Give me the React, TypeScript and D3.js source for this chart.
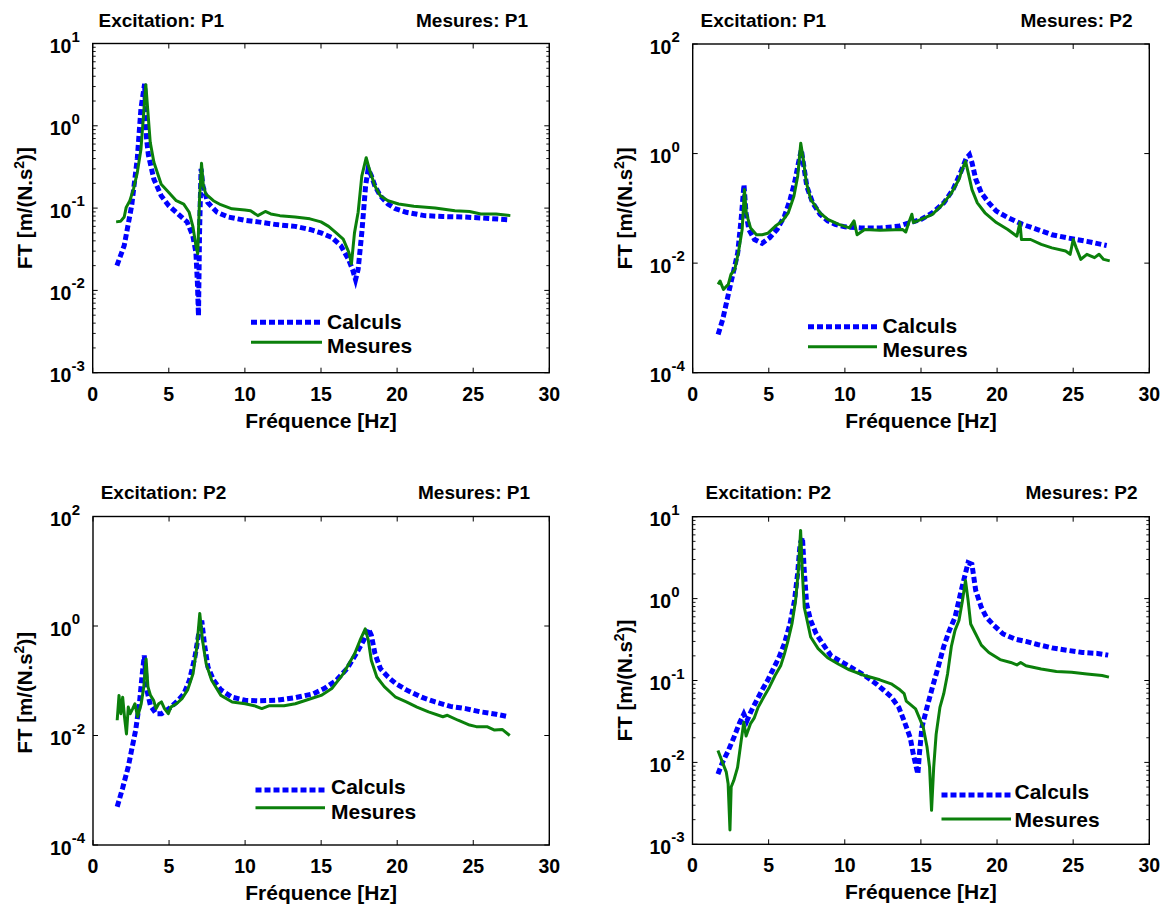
import React from "react";
import * as d3 from "d3";

// ---------- shared labels / ticks ----------
const xTickValues = [0, 5, 10, 15, 20, 25, 30];
const xDomain: [number, number] = [0, 30];
const legendLabels = ["Calculs", "Mesures"];
const xAxisLabel = "Fréquence [Hz]";
const yAxisLabelMain = "FT [m/(N.s";
const yAxisLabelSup = "2";
const yAxisLabelEnd = ")]";

// ---------- Panel 1 : Excitation P1 / Mesures P1 ----------
const p1Titles = ["Excitation: P1", "Mesures: P1"];
const p1YExps = [-3, -2, -1, 0, 1];
const p1CalcFreq = [1.59, 2.07, 2.56, 2.93, 3.17, 3.41, 3.54, 3.66, 4.02, 4.5, 5.0, 5.73, 6.2, 6.58, 6.78, 6.88, 6.95, 7.02, 7.12, 7.24, 7.56, 8.17, 8.9, 10.0, 10.85, 12.07, 13.3, 14.27, 15.0, 15.7, 16.3, 16.8, 17.07, 17.27, 17.44, 17.68, 17.93, 18.1, 18.3, 18.54, 18.9, 19.4, 19.9, 20.6, 21.8, 23.0, 24.3, 25.5, 27.4];
const p1CalcAmp = [0.02, 0.035, 0.107, 0.4, 1.62, 3.24, 0.69, 0.44, 0.224, 0.141, 0.107, 0.081, 0.068, 0.046, 0.029, 0.0123, 0.0049, 0.05, 0.3, 0.186, 0.117, 0.089, 0.078, 0.071, 0.068, 0.063, 0.06, 0.055, 0.05, 0.044, 0.035, 0.024, 0.018, 0.0135, 0.018, 0.05, 0.186, 0.3, 0.25, 0.186, 0.141, 0.112, 0.098, 0.089, 0.081, 0.079, 0.078, 0.076, 0.072];
const p1MesFreq = [1.54, 1.83, 2.07, 2.2, 2.44, 2.68, 2.93, 3.17, 3.34, 3.49, 3.61, 3.78, 4.02, 4.5, 5.0, 5.49, 5.98, 6.34, 6.58, 6.78, 6.9, 7.02, 7.15, 7.27, 7.44, 7.93, 8.41, 9.15, 10.0, 10.37, 10.85, 11.34, 11.7, 12.3, 13.3, 14.27, 15.0, 15.5, 16.0, 16.46, 16.83, 17.0, 17.2, 17.44, 17.68, 17.97, 18.17, 18.54, 18.9, 19.4, 20.1, 21.1, 22.5, 23.8, 24.76, 25.5, 26.5, 27.44];
const p1MesAmp = [0.068, 0.069, 0.078, 0.102, 0.123, 0.17, 0.27, 0.52, 1.35, 3.16, 1.62, 0.63, 0.36, 0.195, 0.155, 0.123, 0.112, 0.089, 0.06, 0.035, 0.028, 0.129, 0.35, 0.186, 0.148, 0.123, 0.11, 0.098, 0.095, 0.093, 0.081, 0.091, 0.085, 0.081, 0.078, 0.074, 0.068, 0.06, 0.05, 0.042, 0.029, 0.021, 0.05, 0.089, 0.245, 0.41, 0.3, 0.186, 0.141, 0.123, 0.112, 0.105, 0.1, 0.093, 0.091, 0.085, 0.085, 0.081];

// ---------- Panel 2 : Excitation P1 / Mesures P2 ----------
const p2Titles = ["Excitation: P1", "Mesures: P2"];
const p2YExps = [-4, -2, 0, 2];
const p2CalcFreq = [1.67, 1.97, 2.22, 2.46, 2.71, 2.96, 3.2, 3.37, 3.5, 3.69, 4.06, 4.56, 5.05, 5.54, 6.03, 6.4, 6.7, 6.95, 7.14, 7.3, 7.5, 7.88, 8.37, 8.87, 9.36, 10.0, 11.06, 12.3, 13.5, 14.3, 15.0, 15.76, 16.5, 17.1, 17.6, 17.98, 18.18, 18.35, 18.6, 18.97, 19.46, 19.95, 20.7, 21.67, 22.66, 23.6, 24.6, 25.9, 27.2];
const p2CalcAmp = [0.0005, 0.00093, 0.0019, 0.0038, 0.0076, 0.0155, 0.072, 0.27, 0.083, 0.041, 0.027, 0.023, 0.029, 0.041, 0.072, 0.145, 0.3, 0.68, 1.17, 0.59, 0.25, 0.126, 0.078, 0.059, 0.051, 0.046, 0.044, 0.044, 0.047, 0.055, 0.063, 0.083, 0.126, 0.22, 0.45, 0.83, 0.95, 0.68, 0.34, 0.19, 0.126, 0.089, 0.068, 0.051, 0.041, 0.033, 0.029, 0.025, 0.021];
const p2MesFreq = [1.67, 1.8, 2.02, 2.34, 2.51, 2.76, 3.0, 3.25, 3.4, 3.52, 3.8, 4.19, 4.56, 4.93, 5.42, 5.9, 6.28, 6.65, 6.9, 7.1, 7.27, 7.46, 7.76, 8.37, 8.87, 9.6, 10.3, 10.6, 10.8, 11.3, 12.3, 13.8, 14.0, 14.2, 14.4, 14.5, 15.0, 15.76, 16.4, 17.0, 17.5, 17.7, 17.93, 18.1, 18.35, 18.7, 19.2, 19.95, 20.7, 21.3, 21.5, 21.6, 22.2, 22.9, 23.6, 24.5, 24.8, 25.0, 25.2, 25.5, 25.9, 26.4, 26.7, 27.0, 27.4];
const p2MesAmp = [0.0041, 0.0047, 0.0033, 0.0041, 0.0062, 0.0076, 0.0155, 0.041, 0.22, 0.083, 0.044, 0.033, 0.033, 0.035, 0.047, 0.059, 0.083, 0.166, 0.39, 1.55, 0.78, 0.3, 0.145, 0.083, 0.063, 0.051, 0.044, 0.059, 0.033, 0.041, 0.04, 0.041, 0.037, 0.055, 0.078, 0.055, 0.063, 0.078, 0.117, 0.19, 0.34, 0.51, 0.72, 0.45, 0.22, 0.126, 0.083, 0.055, 0.041, 0.031, 0.055, 0.027, 0.027, 0.022, 0.019, 0.0166, 0.0145, 0.027, 0.019, 0.0117, 0.0145, 0.0126, 0.0145, 0.0117, 0.011];

// ---------- Panel 3 : Excitation P2 / Mesures P1 ----------
const p3Titles = ["Excitation: P2", "Mesures: P1"];
const p3YExps = [-4, -2, 0, 2];
const p3CalcFreq = [1.59, 1.95, 2.32, 2.56, 2.8, 3.05, 3.24, 3.37, 3.54, 3.78, 4.15, 4.5, 5.0, 5.49, 5.98, 6.34, 6.7, 6.95, 7.15, 7.32, 7.56, 7.93, 8.41, 9.15, 10.0, 10.85, 12.07, 13.3, 14.5, 15.2, 16.0, 16.7, 17.3, 17.8, 18.1, 18.3, 18.54, 18.9, 19.4, 19.9, 20.6, 21.6, 22.5, 23.5, 24.5, 25.5, 26.5, 27.3];
const p3CalcAmp = [0.0005, 0.0011, 0.0027, 0.0058, 0.0123, 0.038, 0.135, 0.29, 0.068, 0.035, 0.025, 0.025, 0.031, 0.041, 0.058, 0.102, 0.27, 0.72, 1.26, 0.48, 0.178, 0.102, 0.068, 0.05, 0.044, 0.043, 0.044, 0.049, 0.058, 0.072, 0.102, 0.166, 0.31, 0.55, 0.89, 0.68, 0.31, 0.166, 0.117, 0.089, 0.068, 0.05, 0.041, 0.034, 0.031, 0.027, 0.0245, 0.022];
const p3MesFreq = [1.59, 1.71, 1.83, 1.95, 2.07, 2.2, 2.32, 2.44, 2.61, 2.76, 2.93, 3.17, 3.34, 3.49, 3.61, 3.78, 3.98, 4.15, 4.32, 4.5, 4.7, 4.95, 5.12, 5.49, 5.85, 6.22, 6.58, 6.83, 7.02, 7.2, 7.44, 7.8, 8.41, 9.15, 10.0, 10.6, 11.1, 11.6, 12.56, 13.3, 14.3, 15.0, 15.7, 16.46, 17.2, 17.56, 17.9, 18.1, 18.3, 18.66, 19.15, 19.9, 20.6, 21.3, 22.06, 23.0, 23.3, 24.0, 24.76, 25.2, 25.9, 26.4, 26.9, 27.4];
const p3MesAmp = [0.019, 0.054, 0.025, 0.05, 0.022, 0.0107, 0.033, 0.025, 0.031, 0.038, 0.022, 0.038, 0.078, 0.25, 0.078, 0.054, 0.044, 0.031, 0.038, 0.041, 0.031, 0.025, 0.033, 0.038, 0.047, 0.068, 0.135, 0.42, 1.7, 0.55, 0.204, 0.102, 0.054, 0.041, 0.038, 0.035, 0.031, 0.035, 0.035, 0.038, 0.047, 0.054, 0.072, 0.135, 0.31, 0.55, 0.89, 0.55, 0.234, 0.117, 0.078, 0.05, 0.041, 0.033, 0.027, 0.022, 0.0234, 0.019, 0.0155, 0.0145, 0.0145, 0.0126, 0.0129, 0.01];

// ---------- Panel 4 : Excitation P2 / Mesures P2 ----------
const p4Titles = ["Excitation: P2", "Mesures: P2"];
const p4YExps = [-3, -2, -1, 0, 1];
const p4CalcFreq = [1.67, 1.97, 2.34, 2.71, 3.08, 3.37, 3.57, 3.82, 4.19, 4.56, 4.93, 5.3, 5.67, 6.03, 6.4, 6.7, 6.9, 7.07, 7.22, 7.34, 7.5, 7.76, 8.13, 8.62, 9.1, 9.85, 10.6, 11.3, 12.07, 12.56, 13.05, 13.55, 13.9, 14.3, 14.5, 14.8, 14.9, 15.07, 15.4, 15.76, 16.13, 16.5, 16.87, 17.24, 17.6, 17.86, 18.1, 18.35, 18.6, 18.97, 19.3, 19.8, 20.4, 21.2, 21.9, 22.66, 23.6, 24.6, 25.6, 26.6, 27.3];
const p4CalcAmp = [0.0072, 0.01, 0.0138, 0.02, 0.03, 0.039, 0.032, 0.041, 0.056, 0.076, 0.1, 0.138, 0.19, 0.28, 0.49, 0.95, 2.0, 4.7, 5.6, 2.19, 0.85, 0.54, 0.37, 0.27, 0.2, 0.166, 0.138, 0.115, 0.091, 0.076, 0.063, 0.047, 0.032, 0.02, 0.0126, 0.0072, 0.0126, 0.027, 0.047, 0.083, 0.145, 0.26, 0.41, 0.59, 1.15, 1.82, 2.75, 2.63, 1.26, 0.78, 0.59, 0.47, 0.37, 0.32, 0.3, 0.275, 0.25, 0.234, 0.22, 0.214, 0.204];
const p4MesFreq = [1.67, 1.97, 2.22, 2.34, 2.46, 2.54, 2.71, 2.96, 3.2, 3.37, 3.52, 3.82, 4.06, 4.31, 4.68, 5.05, 5.42, 5.79, 6.03, 6.28, 6.53, 6.77, 6.95, 7.1, 7.22, 7.34, 7.46, 7.76, 8.25, 8.87, 9.6, 10.3, 11.3, 12.3, 13.05, 13.55, 13.9, 14.04, 14.3, 14.65, 14.9, 15.15, 15.4, 15.57, 15.7, 15.84, 16.0, 16.25, 16.5, 16.75, 17.0, 17.24, 17.5, 17.73, 17.93, 18.1, 18.27, 18.6, 18.97, 19.46, 20.2, 20.9, 21.3, 21.55, 21.9, 22.9, 23.9, 24.9, 25.9, 26.9, 27.35];
const p4MesAmp = [0.014, 0.01, 0.0076, 0.0055, 0.0015, 0.005, 0.006, 0.0087, 0.0186, 0.031, 0.021, 0.03, 0.035, 0.047, 0.063, 0.083, 0.115, 0.151, 0.209, 0.31, 0.49, 0.95, 2.19, 6.8, 2.0, 0.78, 0.62, 0.34, 0.245, 0.19, 0.158, 0.135, 0.115, 0.102, 0.091, 0.079, 0.069, 0.056, 0.051, 0.045, 0.035, 0.027, 0.0155, 0.0087, 0.0026, 0.0087, 0.022, 0.047, 0.069, 0.12, 0.26, 0.41, 0.54, 0.95, 1.66, 0.95, 0.49, 0.37, 0.27, 0.22, 0.18, 0.166, 0.155, 0.166, 0.151, 0.138, 0.129, 0.126, 0.12, 0.115, 0.11];

// ---------- layout ----------
const W = 1167;
const H = 904;
const BLUE = "#0000ff";
const GREEN = "#0b800b";
const FONT = "'Liberation Sans', Arial, Helvetica, sans-serif";

type PanelCfg = {
  left: number; top: number; width: number; height: number;
  yExps: number[]; minor: boolean;
  titles: string[]; titleLeftX: number; titleRightX: number; titleY: number;
  calcF: number[]; calcA: number[]; mesF: number[]; mesA: number[];
  legX1: number; legX2: number; legTextX: number;
  legYC: number; legYM: number; legTextYC: number; legTextYM: number;
  yLabelDy: number;
};

const panels: PanelCfg[] = [
  {
    left: 92.7, top: 43.5, width: 456.6, height: 329.2, yExps: p1YExps, minor: true,
    titles: p1Titles, titleLeftX: 98.5, titleRightX: 528, titleY: 26.5,
    calcF: p1CalcFreq, calcA: p1CalcAmp, mesF: p1MesFreq, mesA: p1MesAmp,
    legX1: 251, legX2: 322, legTextX: 327, legYC: 322.3, legYM: 342.3, legTextYC: 328.5, legTextYM: 353,
    yLabelDy: 0,
  },
  {
    left: 692.7, top: 44, width: 456.6, height: 328.7, yExps: p2YExps, minor: false,
    titles: p2Titles, titleLeftX: 700.5, titleRightX: 1132.5, titleY: 26.5,
    calcF: p2CalcFreq, calcA: p2CalcAmp, mesF: p2MesFreq, mesA: p2MesAmp,
    legX1: 808, legX2: 877, legTextX: 882.5, legYC: 326.7, legYM: 346.7, legTextYC: 332.5, legTextYM: 356.5,
    yLabelDy: 0,
  },
  {
    left: 93, top: 516.5, width: 456.3, height: 328.5, yExps: p3YExps, minor: false,
    titles: p3Titles, titleLeftX: 100.7, titleRightX: 530, titleY: 499,
    calcF: p3CalcFreq, calcA: p3CalcAmp, mesF: p3MesFreq, mesA: p3MesAmp,
    legX1: 255.5, legX2: 325, legTextX: 331, legYC: 790, legYM: 807.7, legTextYC: 794.3, legTextYM: 819.3,
    yLabelDy: 12,
  },
  {
    left: 692.5, top: 516.7, width: 456.8, height: 327.6, yExps: p4YExps, minor: true,
    titles: p4Titles, titleLeftX: 705.5, titleRightX: 1137.5, titleY: 499,
    calcF: p4CalcFreq, calcA: p4CalcAmp, mesF: p4MesFreq, mesA: p4MesAmp,
    legX1: 941.5, legX2: 1011, legTextX: 1014.5, legYC: 795, legYM: 819, legTextYC: 799.3, legTextYM: 826.5,
    yLabelDy: 0,
  },
];

function Panel({ cfg }: { cfg: PanelCfg }) {
  const { left, top, width, height, yExps } = cfg;
  const right = left + width;
  const bottom = top + height;
  const x = d3.scaleLinear().domain(xDomain).range([left, right]);
  const y = d3
    .scaleLog()
    .domain([Math.pow(10, yExps[0]), Math.pow(10, yExps[yExps.length - 1])])
    .range([bottom, top]);

  const line = d3
    .line<[number, number]>()
    .x((d) => x(d[0]))
    .y((d) => y(d[1]));

  const calc: [number, number][] = cfg.calcF.map((f, i) => [f, cfg.calcA[i]]);
  const mes: [number, number][] = cfg.mesF.map((f, i) => [f, cfg.mesA[i]]);

  const majorVals = yExps.map((e) => Math.pow(10, e));
  const minorVals = cfg.minor
    ? y.ticks().filter((v) => {
        const l = Math.log10(v);
        return Math.abs(l - Math.round(l)) > 1e-6;
      })
    : [];

  const cx = (left + right) / 2;
  const cy = (top + bottom) / 2 + cfg.yLabelDy;

  return (
    <g>
      {/* titles */}
      <text x={cfg.titleLeftX} y={cfg.titleY} fontSize={19}>{cfg.titles[0]}</text>
      <text x={cfg.titleRightX} y={cfg.titleY} fontSize={19} textAnchor="end">{cfg.titles[1]}</text>

      {/* data */}
      <path d={line(calc) || ""} fill="none" stroke={BLUE} strokeWidth={5} strokeDasharray="6,3" />
      <path d={line(mes) || ""} fill="none" stroke={GREEN} strokeWidth={3} strokeLinejoin="round" />

      {/* frame */}
      <rect x={left} y={top} width={width} height={height} fill="none" stroke="#000" strokeWidth={1.4} />

      {/* x ticks */}
      {xTickValues.map((t) => (
        <g key={"xt" + t}>
          <line x1={x(t)} x2={x(t)} y1={bottom} y2={bottom - 5} stroke="#000" strokeWidth={1} />
          <line x1={x(t)} x2={x(t)} y1={top} y2={top + 5} stroke="#000" strokeWidth={1} />
          <text x={x(t)} y={bottom + 28} fontSize={19.5} textAnchor="middle">{t}</text>
        </g>
      ))}

      {/* y ticks */}
      {majorVals.map((v, i) => (
        <g key={"ym" + i}>
          <line x1={left} x2={left + 5} y1={y(v)} y2={y(v)} stroke="#000" strokeWidth={1} />
          <line x1={right} x2={right - 5} y1={y(v)} y2={y(v)} stroke="#000" strokeWidth={1} />
          <text x={left - 43} y={y(v) + 9.5} fontSize={19.5}>
            10
            <tspan dy={-11.5} fontSize={15}>{String(yExps[i])}</tspan>
          </text>
        </g>
      ))}
      {minorVals.map((v, i) => (
        <g key={"yn" + i}>
          <line x1={left} x2={left + 3} y1={y(v)} y2={y(v)} stroke="#000" strokeWidth={0.9} />
          <line x1={right} x2={right - 3} y1={y(v)} y2={y(v)} stroke="#000" strokeWidth={0.9} />
        </g>
      ))}

      {/* axis labels */}
      <text x={cx} y={bottom + 55} fontSize={21} textAnchor="middle">{xAxisLabel}</text>
      <text transform={`translate(${left - 61},${cy}) rotate(-90)`} fontSize={20.5} textAnchor="middle">
        {yAxisLabelMain}
        <tspan dy={-8} fontSize={14}>{yAxisLabelSup}</tspan>
        <tspan dy={8}>{yAxisLabelEnd}</tspan>
      </text>

      {/* legend */}
      <line x1={cfg.legX1} x2={cfg.legX2} y1={cfg.legYC} y2={cfg.legYC} stroke={BLUE} strokeWidth={5} strokeDasharray="6,3" />
      <line x1={cfg.legX1} x2={cfg.legX2} y1={cfg.legYM} y2={cfg.legYM} stroke={GREEN} strokeWidth={3} />
      <text x={cfg.legTextX} y={cfg.legTextYC} fontSize={21}>{legendLabels[0]}</text>
      <text x={cfg.legTextX} y={cfg.legTextYM} fontSize={21}>{legendLabels[1]}</text>
    </g>
  );
}

export default function App() {
  return (
    <svg
      width={W}
      height={H}
      viewBox={`0 0 ${W} ${H}`}
      style={{ position: "absolute", left: 0, top: 0, display: "block", background: "#fff" }}
      fontFamily={FONT}
      fontWeight="bold"
      fill="#000"
    >
      <rect x={0} y={0} width={W} height={H} fill="#fff" />
      {panels.map((p, i) => (
        <Panel key={i} cfg={p} />
      ))}
    </svg>
  );
}
